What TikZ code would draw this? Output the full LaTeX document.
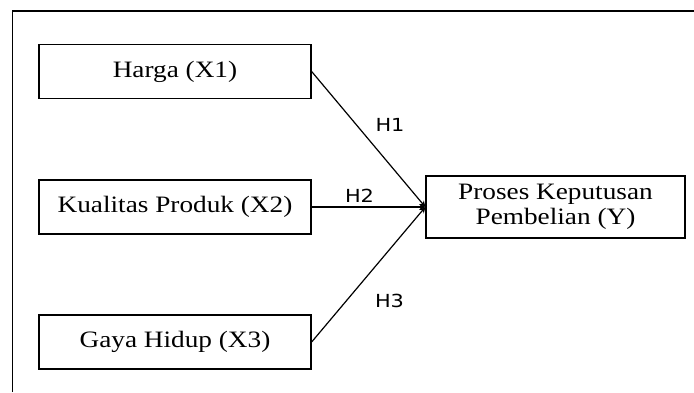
\documentclass[tikz,border=0pt]{standalone}
\usepackage{fontspec}
\setmainfont{Liberation Serif}
\newfontfamily\labelfont{DejaVu Sans}
\usetikzlibrary{arrows.meta}
\newcommand{\widetext}[1]{\scalebox{1.16}[1]{#1}}
\tikzset{
  var/.style={draw=black, line width=1.3pt, minimum width=272pt, minimum height=54pt,
    inner sep=0pt, font=\fontsize{23.5}{25}\selectfont, align=center},
  hyp/.style={font=\labelfont\fontsize{18}{20}\selectfont, inner sep=0pt},
  link/.style={line width=1.2pt, -{Stealth[length=6pt,width=6pt]}}
}
\begin{document}
\begin{tikzpicture}[x=1pt,y=-1pt]
\useasboundingbox (0,0) rectangle (694,392);
% outer frame (left and top edges)
\draw[line width=1.4pt] (12.5,392) -- (12.5,11) -- (694,11);
% variables
\node[var] (x1) at (175,71.5) {\widetext{Harga (X1)}};
\node[var] (x2) at (175,207) {\widetext{Kualitas Produk (X2)}};
\node[var] (x3) at (175,342) {\widetext{Gaya Hidup (X3)}};
\node[var, minimum width=259pt, minimum height=62pt] (y) at (555.5,207)
  {\widetext{Proses Keputusan}\\\widetext{Pembelian (Y)}};
% hypothesised paths
\draw[link] (x1.east) -- (y.west);
\draw[link] (x2.east) -- (y.west);
\draw[link] (x3.east) -- (y.west);
% hypothesis labels
\node[hyp] (h1) at (390,124.5) {\widetext{H1}};
\node[hyp] (h2) at (359.5,195.5) {\widetext{H2}};
\node[hyp] (h3) at (389.5,300.5) {\widetext{H3}};
\end{tikzpicture}
\end{document}
